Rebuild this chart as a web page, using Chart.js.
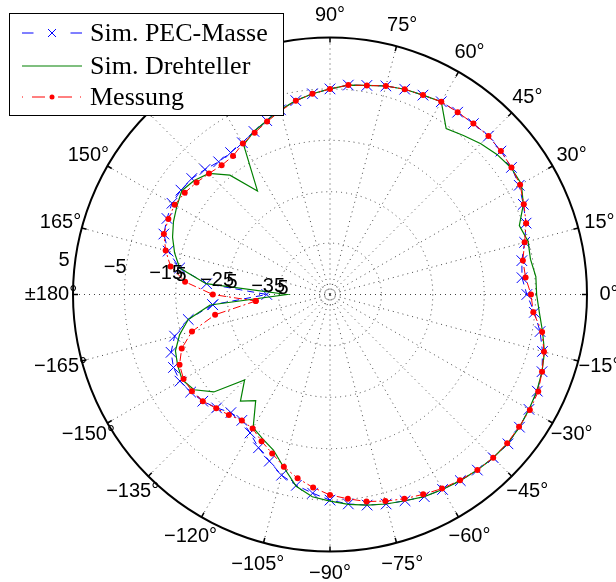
<!DOCTYPE html>
<html>
<head>
<meta charset="utf-8">
<script src="https://cdn.jsdelivr.net/npm/chart.js@4/dist/chart.umd.min.js"></script>
<style>
  html, body { margin: 0; padding: 0; background: #fff; }
  canvas { display: block; }
</style>
</head>
<body>
<canvas id="richtdiagramm" width="616" height="582"></canvas>
<script>
// Winkel in Grad, Pegel in dB (5°-Raster)
const winkel = [];
for (let w = -175; w <= 180; w += 5) winkel.push(w);

const pecMasse = [-22.1, -17.0, -13.7, -12.1, -11.4, -11.3, -11.9, -12.7, -13.8, -15.0, -15.1, -13.9,
  -12.1, -10.5, -8.6, -7.3, -6.2, -5.0, -4.1, -3.4, -2.8, -2.3, -1.6, -1.2,
  -0.8, -0.4, -0.1, 0.2, 0.0, -0.3, -0.5, -1.1, -2.2, -3.5, -5.1, -6.7,
  -7.5, -7.1, -5.8, -4.4, -3.5, -2.5, -1.9, -1.6, -1.4, -1.6, -1.7, -1.7,
  -2.2, -2.5, -3.0, -3.7, -4.1, -5.0, -5.8, -6.7, -7.8, -9.0, -10.0, -10.9,
  -11.3, -11.3, -10.6, -9.9, -9.6, -9.5, -10.0, -10.6, -12.4, -15.3, -20.9, -32.7];

const drehteller = [-21.6, -17.0, -14.7, -13.0, -12.3, -11.8, -12.7, -15.5, -21.5, -17.9, -19.8, -15.1,
  -14.0, -12.8, -10.2, -7.1, -5.5, -4.8, -4.0, -3.4, -2.8, -2.3, -1.6, -1.2,
  -0.8, -0.4, -0.1, 0.1, 0.0, -0.3, -0.6, -1.1, -1.8, -3.0, -4.1, -4.8,
  -4.8, -5.4, -5.1, -5.8, -3.5, -2.0, -2.0, -2.6, -3.5, -4.6, -5.6, -1.7,
  -2.2, -2.5, -3.0, -3.7, -4.1, -5.0, -5.8, -6.7, -7.8, -9.0, -10.0, -11.4,
  -20.4, -14.7, -11.7, -10.5, -9.8, -10.6, -11.4, -12.4, -13.7, -15.3, -20.8, -36.6];

const messung = [-30.5, -22.3, -17.2, -14.3, -12.7, -12.1, -12.2, -12.7, -13.7, -14.4, -15.1, -14.9,
  -13.5, -12.1, -10.3, -8.7, -7.3, -6.0, -5.1, -4.1, -3.4, -2.7, -2.1, -1.4,
  -0.9, -0.4, -0.1, 0.0, -0.1, -0.1, -0.3, -1.1, -1.9, -3.1, -5.3, -5.9,
  -6.8, -6.9, -5.8, -4.4, -3.4, -2.3, -1.9, -1.6, -1.4, -1.6, -1.7, -1.7,
  -2.2, -2.5, -3.0, -3.7, -4.1, -5.0, -5.8, -6.7, -8.0, -9.2, -10.3, -11.1,
  -12.1, -12.2, -11.7, -11.1, -10.5, -10.1, -10.3, -10.6, -11.9, -13.5, -16.7, -22.2];

const pegelMin = -45;
const pegelMax = 5;
const ringWerte = [5, -5, -15, -25, -35];
const innenRing = -43;
const winkelTicks = [0, 15, 30, 45, 60, 75, 90, 105, 120, 135, 150, 165, 180,
  -165, -150, -135, -120, -105, -90, -75, -60, -45, -30, -15];
const winkelText = ['0°', '15°', '30°', '45°', '60°', '75°', '90°', '105°', '120°', '135°', '150°', '165°', '±180°',
  '−165°', '−150°', '−135°', '−120°', '−105°', '−90°', '−75°', '−60°', '−45°', '−30°', '−15°'];
const ringText = ['5', '−5', '−15', '−25', '−35'];

const serien = ['Sim. PEC-Masse', 'Sim. Drehteller', 'Messung'];

// Polarkoordinaten -> kartesisch, Radius = Pegel ueber dem Innenwert
function polarPunkte(pegel) {
  const punkte = winkel.map((w, i) => {
    const r = pegel[i] - pegelMin;
    const a = w * Math.PI / 180;
    return { x: r * Math.cos(a), y: r * Math.sin(a) };
  });
  punkte.push(punkte[0]);
  return punkte;
}

const bereich = pegelMax - pegelMin;
const schrift = '20px "Liberation Sans", Arial, sans-serif';

const polarGitter = {
  id: 'polarGitter',
  beforeDatasetsDraw(chart) {
    const { ctx, scales: { x, y } } = chart;
    const cx = x.getPixelForValue(0);
    const cy = y.getPixelForValue(0);
    const rad = v => x.getPixelForValue(v - pegelMin) - cx;
    const aussen = rad(pegelMax);

    ctx.save();
    ctx.strokeStyle = '#444';
    ctx.lineWidth = 1;
    ctx.setLineDash([1, 4]);
    ringWerte.slice(1).concat([innenRing]).forEach(w => {
      ctx.beginPath();
      ctx.arc(cx, cy, rad(w), 0, 2 * Math.PI);
      ctx.stroke();
    });
    winkelTicks.forEach(w => {
      const a = w * Math.PI / 180;
      ctx.beginPath();
      ctx.moveTo(cx, cy);
      ctx.lineTo(cx + aussen * Math.cos(a), cy - aussen * Math.sin(a));
      ctx.stroke();
    });

    ctx.setLineDash([]);
    ctx.strokeStyle = '#000';
    ctx.lineWidth = 2;
    ctx.beginPath();
    ctx.arc(cx, cy, aussen, 0, 2 * Math.PI);
    ctx.stroke();
    ctx.lineWidth = 1.5;
    winkelTicks.forEach(w => {
      const a = w * Math.PI / 180;
      ctx.beginPath();
      ctx.moveTo(cx + aussen * Math.cos(a), cy - aussen * Math.sin(a));
      ctx.lineTo(cx + (aussen - 5) * Math.cos(a), cy - (aussen - 5) * Math.sin(a));
      ctx.stroke();
    });

    ctx.fillStyle = '#000';
    ctx.font = schrift;
    ctx.textAlign = 'center';
    ctx.textBaseline = 'middle';
    winkelTicks.forEach((w, i) => {
      const a = w * Math.PI / 180;
      const r = aussen + 22;
      ctx.fillText(winkelText[i], cx + r * Math.cos(a), cy - r * Math.sin(a));
    });
    ctx.restore();
  },
  afterDatasetsDraw(chart) {
    const { ctx, scales: { x, y } } = chart;
    const cx = x.getPixelForValue(0);
    const cy = y.getPixelForValue(0);
    const rad = v => x.getPixelForValue(v - pegelMin) - cx;
    const a = 172.8 * Math.PI / 180;
    ctx.save();
    ctx.fillStyle = '#000';
    ctx.font = schrift;
    ctx.textAlign = 'center';
    ctx.textBaseline = 'middle';
    ringWerte.forEach((w, i) => {
      const r = rad(w) + 11;
      const tx = cx + r * Math.cos(a);
      const ty = cy - r * Math.sin(a);
      ctx.fillText(ringText[i], tx, ty);
      if (i >= 2) {
        // doppelt gesetzte Endziffer
        ctx.textAlign = 'right';
        ctx.fillText('5', tx + ctx.measureText(ringText[i]).width / 2 + 3.5, ty + 2);
        ctx.textAlign = 'center';
      }
    });
    ctx.restore();
  },
  afterDraw(chart) {
    const { ctx } = chart;
    const sets = chart.data.datasets;
    // Linienmuster der Legendenproben
    const probenMuster = [[11.5, 37, 11.5], [], [1, 9, 13, 13, 14, 8, 1, 100]];
    ctx.save();
    ctx.fillStyle = '#fff';
    ctx.fillRect(9, 13, 274, 102);
    ctx.strokeStyle = '#000';
    ctx.lineWidth = 1;
    ctx.strokeRect(9.5, 13.5, 274, 102);
    const zeilen = [33, 66, 97];
    zeilen.forEach((yy, i) => {
      const ds = sets[i];
      ctx.strokeStyle = ds.borderColor;
      ctx.lineWidth = ds.borderWidth;
      ctx.setLineDash(probenMuster[i]);
      ctx.beginPath();
      ctx.moveTo(22, yy);
      ctx.lineTo(82, yy);
      ctx.stroke();
      ctx.setLineDash([]);
      if (i === 0) {
        ctx.lineWidth = 1;
        ctx.beginPath();
        ctx.moveTo(48, yy - 4); ctx.lineTo(56, yy + 4);
        ctx.moveTo(48, yy + 4); ctx.lineTo(56, yy - 4);
        ctx.stroke();
      } else if (i === 2) {
        ctx.fillStyle = ds.pointBackgroundColor;
        ctx.beginPath();
        ctx.arc(52, yy, 2.5, 0, 2 * Math.PI);
        ctx.fill();
      }
      ctx.fillStyle = '#000';
      ctx.font = '26px "Liberation Serif", "Times New Roman", serif';
      ctx.textAlign = 'left';
      ctx.textBaseline = 'middle';
      ctx.fillText(serien[i], 90, yy + 1);
    });
    ctx.restore();
  }
};

const canvas = document.getElementById('richtdiagramm');
new Chart(canvas, {
  type: 'scatter',
  data: {
    datasets: [{
      label: serien[0],
      data: polarPunkte(pecMasse),
      showLine: true,
      borderColor: 'rgb(0, 0, 255)',
      borderWidth: 1,
      borderDash: [7, 5],
      pointStyle: 'crossRot',
      pointRadius: 7.5,
      pointBorderWidth: 1,
      pointBorderColor: 'rgb(0, 0, 255)',
      pointBackgroundColor: 'rgb(0, 0, 255)',
      order: 3
    }, {
      label: serien[1],
      data: polarPunkte(drehteller),
      showLine: true,
      borderColor: 'rgb(0, 128, 0)',
      borderWidth: 1.2,
      pointRadius: 0,
      order: 2
    }, {
      label: serien[2],
      data: polarPunkte(messung),
      showLine: true,
      borderColor: 'rgb(255, 0, 0)',
      borderWidth: 1,
      borderDash: [8, 3, 2, 3],
      pointStyle: 'circle',
      pointRadius: 3,
      pointBorderWidth: 0,
      pointBackgroundColor: 'rgb(255, 0, 0)',
      order: 1
    }]
  },
  options: {
    responsive: false,
    animation: false,
    devicePixelRatio: 1,
    layout: {
      padding: { left: 73, right: 29, top: 37.5, bottom: 30.5 }
    },
    scales: {
      x: { type: 'linear', min: -bereich, max: bereich, display: false },
      y: { type: 'linear', min: -bereich, max: bereich, display: false }
    },
    plugins: {
      legend: { display: false },
      tooltip: { enabled: false }
    }
  },
  plugins: [polarGitter]
});
</script>
</body>
</html>
